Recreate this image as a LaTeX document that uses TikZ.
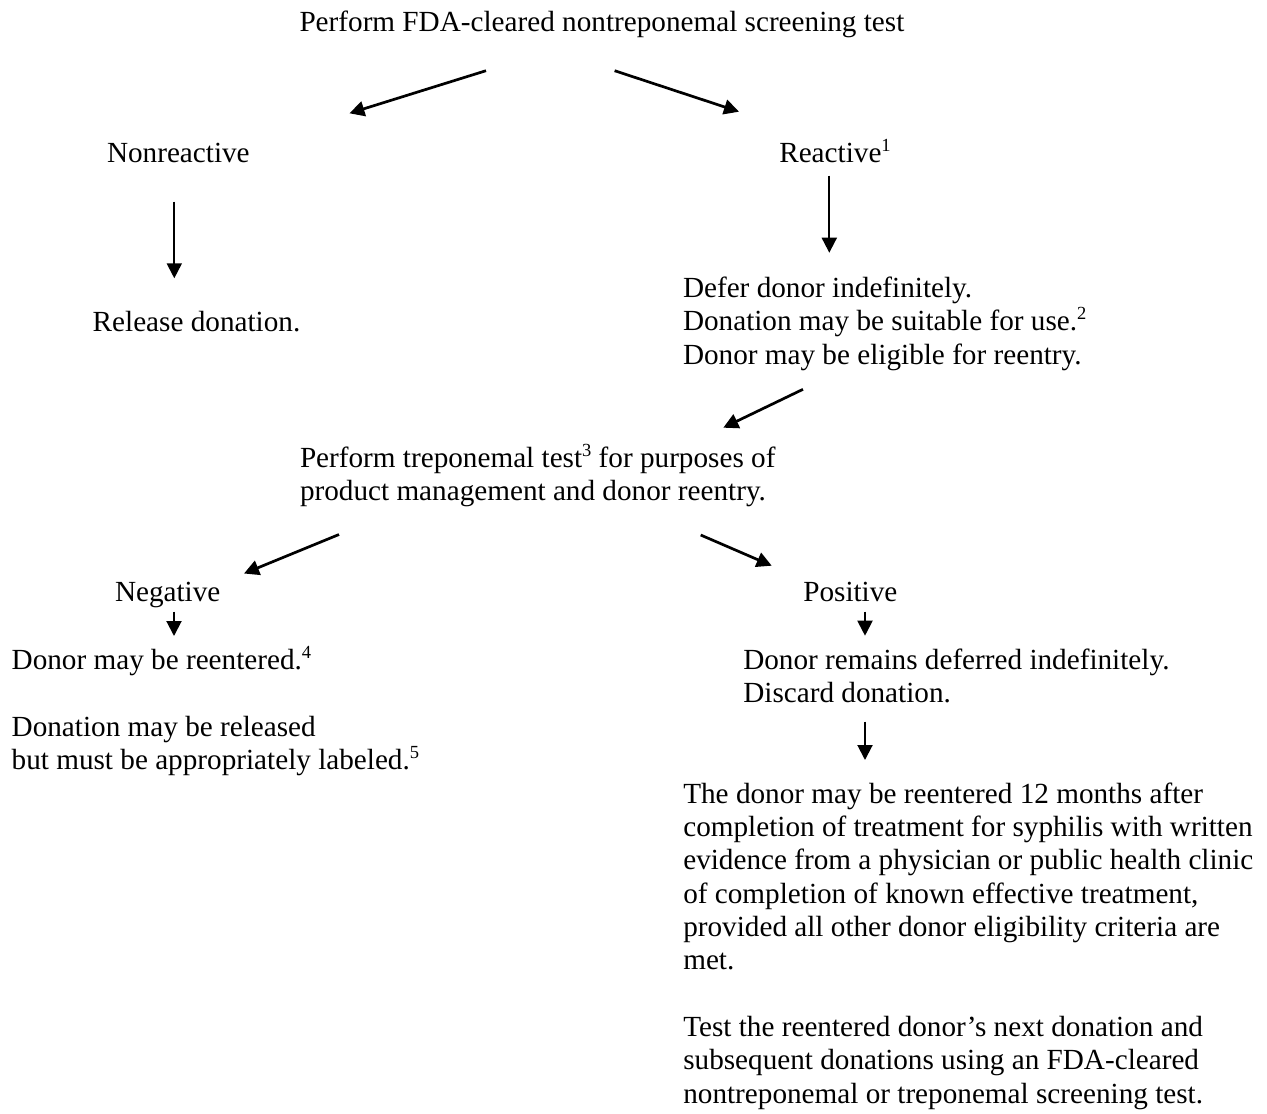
\documentclass[tikz,border=0pt]{standalone}
\usepackage{fontspec}
\setmainfont{Liberation Serif}
\usetikzlibrary{arrows.meta}
\newcommand{\mylines}[1]{\begin{tabular}[t]{@{}l@{}}#1\end{tabular}}
\newcommand{\mysup}[1]{\raisebox{11pt}{\fontsize{18.5pt}{18.5pt}\selectfont #1}}
\begin{document}
\begin{tikzpicture}[x=1pt,y=-1pt,
  txt/.style={anchor=base west,inner sep=0pt,outer sep=0pt,
    font=\fontsize{29.2pt}{33.3pt}\selectfont},
  darr/.style={line width=2.7pt,-{Triangle[length=15pt,width=15pt]}},
  varr/.style={line width=2pt,-{Triangle[length=15pt,width=15pt]}}]
\useasboundingbox[fill=white] (0,0) rectangle (1267,1114);
% text nodes
\node[txt] (title) at (299.5,31.7) {Perform FDA-cleared nontreponemal screening test};
\node[txt] (nonr) at (107,162.7) {Nonreactive};
\node[txt] (reac) at (779.3,162.7) {Reactive\mysup{1}};
\node[txt] (rel) at (92.7,331.7) {Release donation.};
\node[txt] (defer) at (683,297.5) {\mylines{Defer donor indefinitely.\\Donation may be suitable for use.\mysup{2}\\Donor may be eligible for reentry.}};
\node[txt] (trep) at (300,467) {\mylines{Perform treponemal test\mysup{3} for purposes of\\product management and donor reentry.}};
\node[txt] (neg) at (115,601.7) {Negative};
\node[txt] (pos) at (803.3,601.7) {Positive};
\node[txt] (reent) at (11.7,669) {Donor may be reentered.\mysup{4}};
\node[txt] (donrel) at (11.7,736.5) {\mylines{Donation may be released\\but must be appropriately labeled.\mysup{5}}};
\node[txt] (remain) at (743.3,669) {\mylines{Donor remains deferred indefinitely.\\Discard donation.}};
\node[txt] (tdonor) at (683.3,803.3) {\mylines{The donor may be reentered 12 months after\\completion of treatment for syphilis with written\\evidence from a physician or public health clinic\\of completion of known effective treatment,\\provided all other donor eligibility criteria are\\met.\\[33.3pt]Test the reentered donor’s next donation and\\subsequent donations using an FDA-cleared\\nontreponemal or treponemal screening test.}};
% arrow end points
\coordinate (d1s) at (486,70.7);   \coordinate (d1e) at (349.4,113.3);
\coordinate (d2s) at (614.6,70.7); \coordinate (d2e) at (739,111.7);
\coordinate (d3s) at (803,389.3);  \coordinate (d3e) at (723.3,427.7);
\coordinate (d4s) at (339,534.5);  \coordinate (d4e) at (244,573.5);
\coordinate (d5s) at (700.7,535);  \coordinate (d5e) at (771.7,565.7);
\coordinate (v1s) at (174.3,201.7); \coordinate (v1e) at (174.3,278.3);
\coordinate (v2s) at (829.3,175.7); \coordinate (v2e) at (829.3,252.7);
\coordinate (v3s) at (174,611.7);   \coordinate (v3e) at (174,636);
\coordinate (v4s) at (865,611.7);   \coordinate (v4e) at (865,635.7);
\coordinate (v5s) at (865,721.7);   \coordinate (v5e) at (865,760);
% arrows
\draw[darr] (d1s) -- (d1e);
\draw[darr] (d2s) -- (d2e);
\draw[darr] (d3s) -- (d3e);
\draw[darr] (d4s) -- (d4e);
\draw[darr] (d5s) -- (d5e);
\draw[varr] (v1s) -- (v1e);
\draw[varr] (v2s) -- (v2e);
\draw[varr] (v3s) -- (v3e);
\draw[varr] (v4s) -- (v4e);
\draw[varr] (v5s) -- (v5e);
\end{tikzpicture}
\end{document}
